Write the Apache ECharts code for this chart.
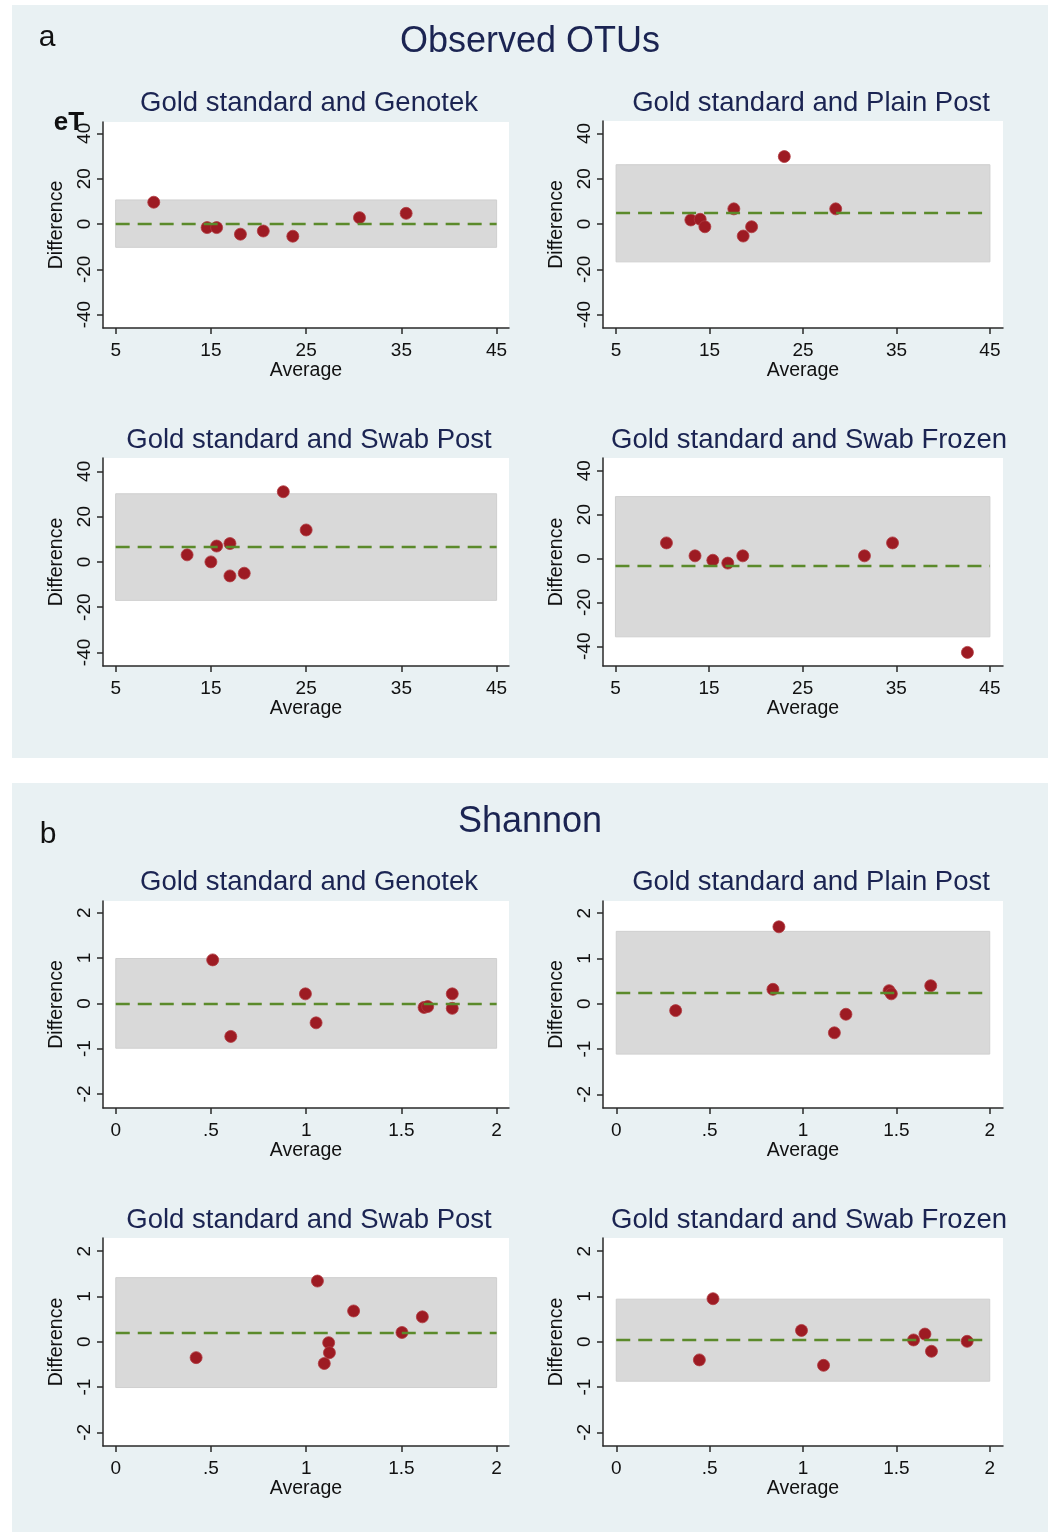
<!DOCTYPE html>
<html>
<head>
<meta charset="utf-8">
<script src="https://cdn.jsdelivr.net/npm/echarts@6/dist/echarts.min.js"></script>
<style>
  html, body { margin: 0; padding: 0; background: #ffffff; }
  #wrap { position: relative; width: 1052px; height: 1532px; }
  .bgpanel { position: absolute; background: #e9f1f3; }
  #chart { position: absolute; left: 0; top: 0; width: 1052px; height: 1532px; }
</style>
</head>
<body>
<div id="wrap">
  <div class="bgpanel" style="left:12px;top:5px;width:1036px;height:753px;"></div>
  <div class="bgpanel" style="left:12px;top:783px;width:1036px;height:749px;"></div>
  <div id="chart"></div>
</div>
<script>
// ---------------- Data ----------------
const panelTitles = ['Gold standard and Genotek', 'Gold standard and Plain Post', 'Gold standard and Swab Post', 'Gold standard and Swab Frozen'];
const sectionTitles = ['Observed OTUs', 'Shannon'];
const sectionLetters = ['a', 'b'];

const otuXTicks = [5, 15, 25, 35, 45];
const otuYTicks = [-40, -20, 0, 20, 40];
const shXTicks = [0, 0.5, 1, 1.5, 2];
const shXTickLabels = ['0', '.5', '1', '1.5', '2'];
const shYTicks = [-2, -1, 0, 1, 2];

// Observed OTUs (Average, Difference)
const otuGenotekX = [9.0, 14.6, 15.6, 18.1, 20.5, 23.6, 30.6, 35.5];
const otuGenotekY = [9.6, -1.6, -1.6, -4.5, -3.1, -5.4, 2.8, 4.7];
const otuPlainX = [13.0, 14.0, 14.5, 17.6, 18.6, 19.5, 23.0, 28.5];
const otuPlainY = [1.8, 2.1, -1.2, 6.7, -5.3, -1.2, 29.8, 6.7];
const otuSwabPostX = [12.5, 15.0, 15.6, 17.0, 17.0, 18.5, 22.6, 25.0];
const otuSwabPostY = [3.1, 0.0, 7.0, 8.1, -6.2, -5.0, 31.0, 14.1];
const otuSwabFrozenX = [10.45, 13.5, 15.4, 17.0, 18.6, 31.6, 34.6, 42.6];
const otuSwabFrozenY = [7.1, 1.2, -0.8, -2.1, 1.2, 1.2, 7.1, -42.8];
const otuMean = [0.0, 4.8, 6.5, -3.5];
const otuLower = [-10.3, -16.7, -17.0, -35.7];
const otuUpper = [10.6, 26.2, 30.1, 28.2];

// Shannon (Average, Difference)
const shGenotekX = [0.509, 0.604, 0.996, 1.052, 1.619, 1.638, 1.767, 1.767];
const shGenotekY = [0.96, -0.73, 0.21, -0.43, -0.09, -0.07, 0.21, -0.11];
const shPlainX = [0.318, 0.839, 0.871, 1.168, 1.230, 1.461, 1.473, 1.684];
const shPlainY = [-0.15, 0.32, 1.70, -0.64, -0.23, 0.29, 0.22, 0.40];
const shSwabPostX = [0.422, 1.059, 1.095, 1.118, 1.122, 1.249, 1.503, 1.610];
const shSwabPostY = [-0.35, 1.34, -0.48, -0.02, -0.24, 0.68, 0.205, 0.55];
const shSwabFrozenX = [0.445, 0.518, 0.992, 1.110, 1.592, 1.653, 1.688, 1.879];
const shSwabFrozenY = [-0.40, 0.95, 0.25, -0.52, 0.04, 0.17, -0.21, 0.01];
const shMean = [0.0, 0.24, 0.205, 0.044];
const shLower = [-0.99, -1.11, -1.01, -0.87];
const shUpper = [0.99, 1.60, 1.415, 0.94];

// ---------------- Layout ----------------
const FONT = '"Liberation Sans", Arial, sans-serif';
const TITLE_COLOR = '#1b2452';
const AXIS_COLOR = '#2a2a2a';
const POINT_COLOR = '#9d1b23';
const BAND_COLOR = '#d9d9d9';
const LINE_COLOR = '#5b8a2b';

const panels = [
  // OTU
  { grid: [103, 122, 406, 206], x: [3.67, 46.3], y: [-45.9, 45.0], xs: otuGenotekX, ys: otuGenotekY, m: otuMean[0], lo: otuLower[0], hi: otuUpper[0], kind: 'otu', title: panelTitles[0], tc: [309, 103] },
  { grid: [603, 121, 400, 207], x: [3.6, 46.4], y: [-45.9, 45.5], xs: otuPlainX, ys: otuPlainY, m: otuMean[1], lo: otuLower[1], hi: otuUpper[1], kind: 'otu', title: panelTitles[1], tc: [811, 103] },
  { grid: [103, 458, 406, 208], x: [3.67, 46.3], y: [-46.0, 45.9], xs: otuSwabPostX, ys: otuSwabPostY, m: otuMean[2], lo: otuLower[2], hi: otuUpper[2], kind: 'otu', title: panelTitles[2], tc: [309, 440] },
  { grid: [603, 458, 400, 208], x: [3.67, 46.4], y: [-49.0, 45.8], xs: otuSwabFrozenX, ys: otuSwabFrozenY, m: otuMean[3], lo: otuLower[3], hi: otuUpper[3], kind: 'otu', title: panelTitles[3], tc: [809, 440] },
  // Shannon
  { grid: [103, 901, 406, 207], x: [-0.067, 2.065], y: [-2.31, 2.26], xs: shGenotekX, ys: shGenotekY, m: shMean[0], lo: shLower[0], hi: shUpper[0], kind: 'sh', title: panelTitles[0], tc: [309, 882] },
  { grid: [603, 901, 400, 207], x: [-0.071, 2.071], y: [-2.30, 2.27], xs: shPlainX, ys: shPlainY, m: shMean[1], lo: shLower[1], hi: shUpper[1], kind: 'sh', title: panelTitles[1], tc: [811, 882] },
  { grid: [103, 1238, 406, 208], x: [-0.067, 2.065], y: [-2.30, 2.29], xs: shSwabPostX, ys: shSwabPostY, m: shMean[2], lo: shLower[2], hi: shUpper[2], kind: 'sh', title: panelTitles[2], tc: [309, 1220] },
  { grid: [603, 1238, 400, 208], x: [-0.071, 2.071], y: [-2.30, 2.29], xs: shSwabFrozenX, ys: shSwabFrozenY, m: shMean[3], lo: shLower[3], hi: shUpper[3], kind: 'sh', title: panelTitles[3], tc: [809, 1220] }
];

const grids = [], xAxes = [], yAxes = [], series = [], graphics = [];

panels.forEach((p, i) => {
  const isOtu = p.kind === 'otu';
  const xt = isOtu ? otuXTicks : shXTicks;
  const yt = isOtu ? otuYTicks : shYTicks;
  const x0 = xt[0], x1 = xt[xt.length - 1];
  grids.push({
    left: p.grid[0], top: p.grid[1], width: p.grid[2], height: p.grid[3],
    show: true, backgroundColor: '#ffffff', borderWidth: 0,
    containLabel: false, outerBoundsMode: 'none'
  });
  xAxes.push({
    type: 'value', gridIndex: i, min: p.x[0], max: p.x[1],
    name: 'Average', nameLocation: 'middle', nameGap: 33,
    nameTextStyle: { fontFamily: FONT, fontSize: 19.5, color: '#111' },
    axisLine: { show: true, onZero: false, lineStyle: { color: AXIS_COLOR, width: 1.5 } },
    axisTick: { show: true, length: 6, lineStyle: { color: AXIS_COLOR, width: 1.5 }, customValues: xt },
    axisLabel: {
      show: true, margin: 13, fontFamily: FONT, fontSize: 19, color: '#111', customValues: xt,
      formatter: v => {
        if (isOtu) return String(v);
        const k = shXTicks.findIndex(t => Math.abs(t - v) < 1e-9);
        return k >= 0 ? shXTickLabels[k] : '';
      }
    },
    splitLine: { show: false }
  });
  yAxes.push({
    type: 'value', gridIndex: i, min: p.y[0], max: p.y[1],
    name: 'Difference', nameLocation: 'middle', nameGap: 36, nameRotate: 90,
    nameTextStyle: { fontFamily: FONT, fontSize: 19.5, color: '#111' },
    axisLine: { show: true, onZero: false, lineStyle: { color: AXIS_COLOR, width: 1.5 } },
    axisTick: { show: true, length: 6, lineStyle: { color: AXIS_COLOR, width: 1.5 }, customValues: yt },
    axisLabel: { show: true, rotate: 90, margin: 9, fontFamily: FONT, fontSize: 19, color: '#111', customValues: yt },
    splitLine: { show: false }
  });
  // band + mean line
  series.push({
    type: 'scatter', xAxisIndex: i, yAxisIndex: i, data: [], z: 1, silent: true,
    markArea: {
      silent: true, itemStyle: { color: BAND_COLOR, borderColor: '#cfcfcf', borderWidth: 1 },
      data: [[{ coord: [x0, p.lo] }, { coord: [x1, p.hi] }]]
    },
    markLine: {
      silent: true, symbol: ['none', 'none'], label: { show: false },
      lineStyle: { color: LINE_COLOR, width: 2.4, type: [14, 8] },
      data: [[{ coord: [x0, p.m] }, { coord: [x1, p.m] }]]
    }
  });
  series.push({
    type: 'scatter', xAxisIndex: i, yAxisIndex: i, z: 3,
    symbol: 'circle', symbolSize: 12,
    itemStyle: { color: POINT_COLOR, borderColor: '#b03a40', borderWidth: 0.8, opacity: 1 },
    data: p.xs.map((x, k) => [x, p.ys[k]])
  });
  graphics.push({
    type: 'text', x: p.tc[0], y: p.tc[1], silent: true,
    style: { text: p.title, fill: TITLE_COLOR, font: '27.5px ' + FONT, textAlign: 'center', textVerticalAlign: 'middle' }
  });
});

// section titles & letters
graphics.push({ type: 'text', x: 530, y: 42, style: { text: sectionTitles[0], fill: TITLE_COLOR, font: '36px ' + FONT, textAlign: 'center', textVerticalAlign: 'middle' } });
graphics.push({ type: 'text', x: 530, y: 822, style: { text: sectionTitles[1], fill: TITLE_COLOR, font: '36px ' + FONT, textAlign: 'center', textVerticalAlign: 'middle' } });
graphics.push({ type: 'text', x: 47, y: 38, style: { text: sectionLetters[0], fill: '#111', font: '30px ' + FONT, textAlign: 'center', textVerticalAlign: 'middle' } });
graphics.push({ type: 'text', x: 48, y: 835, style: { text: sectionLetters[1], fill: '#111', font: '30px ' + FONT, textAlign: 'center', textVerticalAlign: 'middle' } });
graphics.push({ type: 'text', x: 69, y: 123, style: { text: 'eT', fill: '#111', font: 'bold 26px ' + FONT, textAlign: 'center', textVerticalAlign: 'middle' } });

const chart = echarts.init(document.getElementById('chart'), null, { renderer: 'canvas' });
chart.setOption({
  backgroundColor: 'transparent',
  animation: false,
  grid: grids,
  xAxis: xAxes,
  yAxis: yAxes,
  series: series,
  graphic: graphics
});
</script>
</body>
</html>
